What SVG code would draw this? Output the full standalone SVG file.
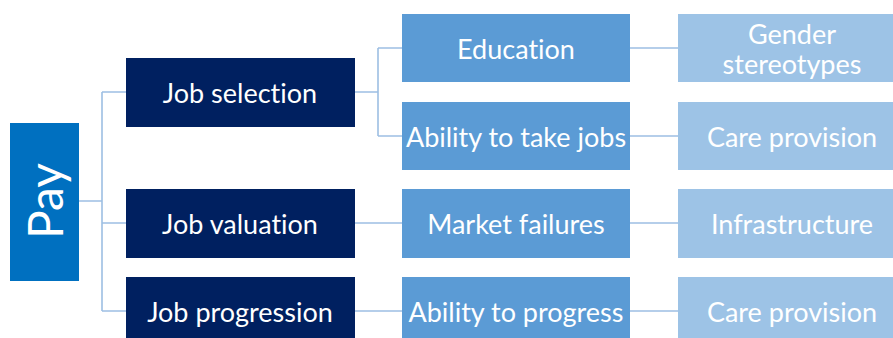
<svg xmlns="http://www.w3.org/2000/svg" width="893" height="338" viewBox="0 0 893 338">
  <style>
    .t { font-family: Lato, "Open Sans", "Liberation Sans", sans-serif; fill: #ffffff; text-anchor: middle; dominant-baseline: central; font-size: 27px; font-variant-ligatures: none; font-feature-settings: "liga" 0, "clig" 0, "dlig" 0; }
    .big { font-size: 48px; }
    .root { fill: #0070C0; }
    .l1 { fill: #002060; }
    .l2 { fill: #5B9BD5; }
    .l3 { fill: #9DC3E6; }
    .link { fill: none; stroke: #9DBFE3; stroke-width: 1.6; }
  </style>
  <rect width="893" height="338" fill="#ffffff"/>

  <!-- connectors -->
  <g id="connectors">
    <path class="link" d="M79 201 H102 M102 92 V311 M102 92 H126 M102 223 H126 M102 311 H126"/>
    <path class="link" d="M355 92 H378 M378 48 V136 M378 48 H402 M378 136 H402"/>
    <path class="link" d="M355 223 H402 M355 311 H402"/>
    <path class="link" d="M630 48 H678 M630 136 H678 M630 223 H678 M630 311 H678"/>
  </g>

  <!-- root -->
  <g id="pay">
    <rect class="root" x="10" y="123" width="69" height="158"/>
    <text class="t big" x="44" y="201" transform="rotate(-90 44 201)">Pay</text>
  </g>

  <!-- first level -->
  <g id="job-selection">
    <rect class="l1" x="126" y="58" width="229" height="69"/>
    <text class="t" x="240" y="92">Job selection</text>
  </g>
  <g id="job-valuation">
    <rect class="l1" x="126" y="189" width="229" height="69"/>
    <text class="t" x="240" y="223">Job valuation</text>
  </g>
  <g id="job-progression">
    <rect class="l1" x="126" y="277" width="229" height="69"/>
    <text class="t" x="240" y="311">Job progression</text>
  </g>

  <!-- second level -->
  <g id="education">
    <rect class="l2" x="402" y="14" width="228" height="68"/>
    <text class="t" x="516" y="48">Education</text>
  </g>
  <g id="ability-take-jobs">
    <rect class="l2" x="402" y="102" width="228" height="68"/>
    <text class="t" x="516" y="136">Ability to take jobs</text>
  </g>
  <g id="market-failures">
    <rect class="l2" x="402" y="189" width="228" height="69"/>
    <text class="t" x="516" y="223">Market failures</text>
  </g>
  <g id="ability-progress">
    <rect class="l2" x="402" y="277" width="228" height="69"/>
    <text class="t" x="516" y="311">Ability to progress</text>
  </g>

  <!-- third level -->
  <g id="gender-stereotypes">
    <rect class="l3" x="678" y="14" width="228" height="68"/>
    <text class="t" x="792" y="33">Gender</text>
    <text class="t" x="792" y="63">stereotypes</text>
  </g>
  <g id="care-provision-1">
    <rect class="l3" x="678" y="102" width="228" height="68"/>
    <text class="t" x="792" y="136">Care provision</text>
  </g>
  <g id="infrastructure">
    <rect class="l3" x="678" y="189" width="228" height="69"/>
    <text class="t" x="792" y="223">Infrastructure</text>
  </g>
  <g id="care-provision-2">
    <rect class="l3" x="678" y="277" width="228" height="69"/>
    <text class="t" x="792" y="311">Care provision</text>
  </g>
</svg>
